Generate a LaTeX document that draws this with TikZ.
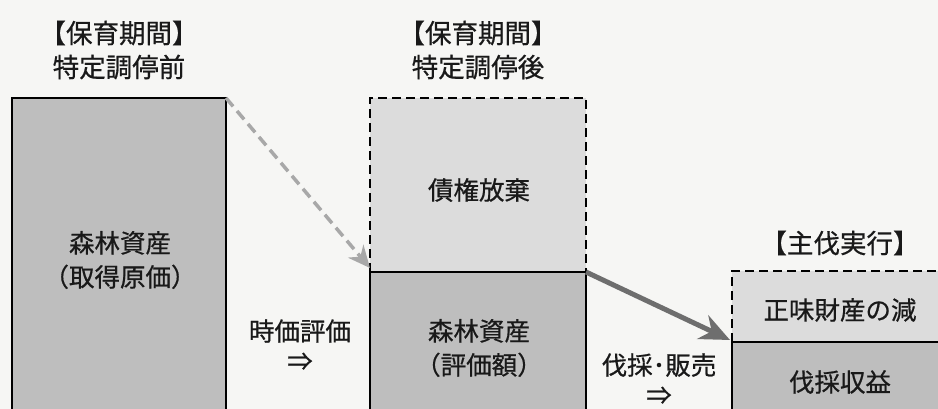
\documentclass[tikz,border=0pt]{standalone}
\usepackage{fontspec}
\setmainfont{Noto Sans CJK JP}[FakeBold=0.6]
\usetikzlibrary{arrows.meta}
\definecolor{bg}{HTML}{F6F6F4}
\definecolor{darkfill}{HTML}{BEBEBE}
\definecolor{lightfill}{HTML}{DCDCDC}
\definecolor{dasharrow}{HTML}{A8A8A8}
\definecolor{solidarrow}{HTML}{6E6E6E}
\tikzset{
  solidbox/.style={draw=black, line width=1.8pt, fill=darkfill, anchor=north west, inner sep=0pt, outer sep=0pt},
  dashbox/.style={fill=lightfill, anchor=north west, inner sep=0pt, outer sep=0pt},
  label/.style={font=\fontsize{25.5pt}{34pt}\selectfont, align=center, inner sep=0pt, text=black!90},
  title/.style={font=\fontsize{26.5pt}{34pt}\selectfont, align=center, inner sep=0pt, text=black!90},
  dashline/.style={line width=1.8pt, dash pattern=on 9pt off 5pt},
}
\begin{document}
\begin{tikzpicture}[x=1pt,y=-1pt]
\useasboundingbox (0,0) rectangle (938,409);
\fill[bg] (0,0) rectangle (938,409);
\begin{scope}
\clip (0,0) rectangle (938,409);
% left box
\node[solidbox, minimum width=214pt, minimum height=340pt] (lb) at (12,98) {};
% middle boxes
\node[dashbox, minimum width=216pt, minimum height=174pt] (mt) at (370,98) {};
\node[solidbox, minimum width=216pt, minimum height=160pt] (mb) at (370,272) {};
\draw[dashline] (mt.south west) -- (mt.north west) -- (mt.north east) -- (mt.south east);
% right boxes
\node[dashbox, minimum width=216pt, minimum height=71pt] (rt) at (732,271) {};
\node[solidbox, minimum width=216pt, minimum height=90pt] (rb) at (732,342) {};
\draw[dashline] (rt.south west) -- (rt.north west) -- (rt.north east) -- (rt.south east);
\end{scope}
% titles
\node[title] (t1) at (119,50) {【保育期間】\\特定調停前};
\node[title] (t2) at (478,50) {【保育期間】\\特定調停後};
\node[title] (t3) at (840,243) {【主伐実行】};
% labels
\node[label] (l1) at (120,260) {森林資産\\（取得原価）};
\node[label] (l2) at (479,190) {債権放棄};
\node[label] (l3) at (479,348) {森林資産\\（評価額）};
\node[label] (l4) at (840,310) {正味財産の減};
\node[label] (l5) at (840,382) {伐採収益};
\node[label, font=\fontsize{25.5pt}{30pt}\selectfont] (l6) at (300,345) {時価評価\\⇒};
\node[label, font=\fontsize{25.5pt}{30pt}\selectfont] (l7) at (659,379) {伐採･販売\\⇒};
% arrows
\coordinate (a1) at (370,268);
\coordinate (a2) at (730,340);
\draw[dasharrow, line width=3.5pt, dash pattern=on 11pt off 6pt,
  -{Stealth[length=22pt, width=20pt, fill=dasharrow]}]
  (lb.north east) -- (a1);
\draw[solidarrow, line width=5pt,
  -{Stealth[length=30pt, width=26pt, fill=solidarrow]}]
  (mt.south east) -- (a2);
\end{tikzpicture}
\end{document}
